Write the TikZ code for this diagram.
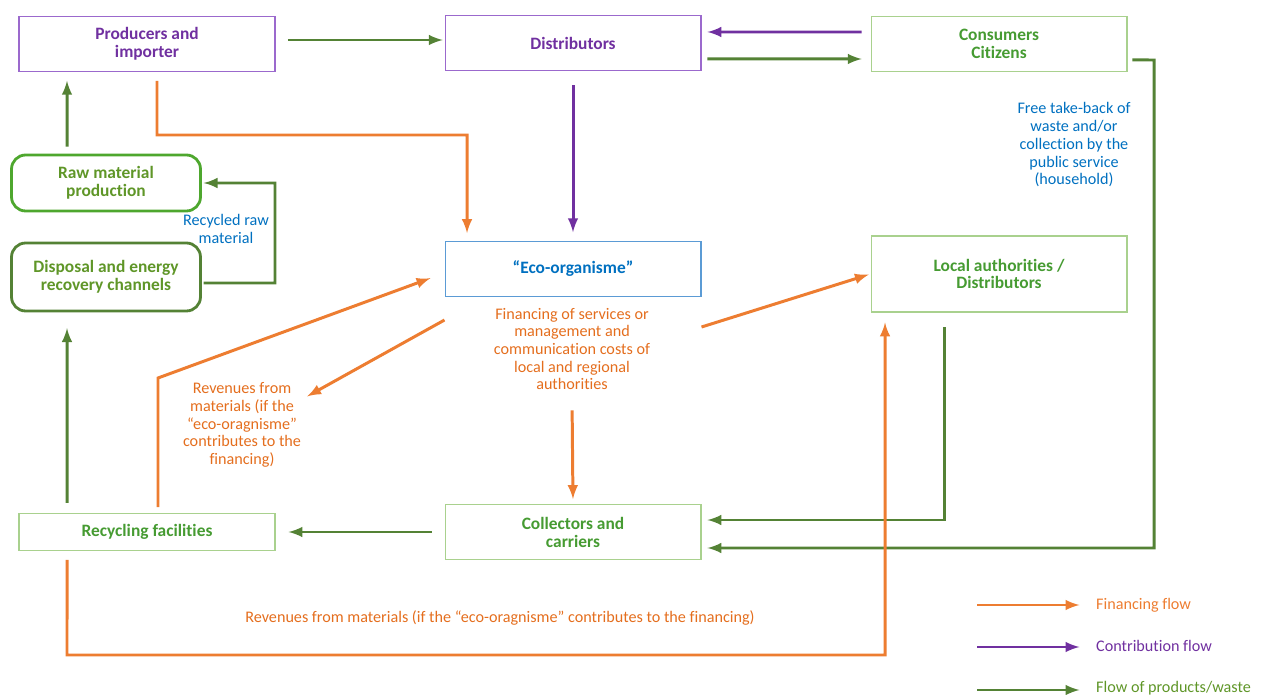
\documentclass[tikz,border=0pt]{standalone}
\usepackage{fontspec}
\setmainfont{Carlito}[Ligatures=NoCommon]
\usetikzlibrary{arrows}
\definecolor{orng}{RGB}{237,125,49}
\definecolor{orngtxt}{RGB}{228,110,30}
\definecolor{purp}{RGB}{112,48,160}
\definecolor{purpbox}{RGB}{155,105,205}
\definecolor{grn}{RGB}{84,130,53}
\definecolor{grnbox}{RGB}{169,209,142}
\definecolor{grntxt}{RGB}{70,155,50}
\definecolor{rawgrn}{RGB}{78,167,46}
\definecolor{oliv}{RGB}{95,150,40}
\definecolor{blu}{RGB}{0,112,192}
\definecolor{blubox}{RGB}{91,155,213}

\begin{document}
\begin{tikzpicture}[x=0.02cm, y=-0.02cm, font=\fontsize{9.2}{10.1}\selectfont,
  box/.style={draw, line width=0.6pt, minimum width=5.12cm, minimum height=1.1cm, align=center, font=\fontsize{9.9}{10.2}\selectfont\bfseries},
  rbox/.style={box, rounded corners=8pt, line width=1.6pt, minimum width=3.78cm},
  note/.style={align=center},
  flow/.style={line width=1.7pt, -latex},
  fin/.style={flow, draw=orng},
  con/.style={flow, draw=purp},
  prd/.style={flow, draw=grn}]
\useasboundingbox (0,0) rectangle (1263,695);

\node[box, draw=purpbox, text=purp] (prod) at (147,44) {Producers and\\importer};
\node[box, draw=purpbox, text=purp] (dist) at (573,43) {Distributors};
\node[box, draw=grnbox, text=grntxt] (cons) at (999,44) {Consumers\\Citizens};
\node[rbox, draw=rawgrn, text=oliv, minimum height=1.12cm] (raw) at (106,183) {Raw material\\production};
\node[rbox, draw=grn, text=oliv, minimum height=1.36cm] (disp) at (106,277) {Disposal and energy\\recovery channels};
\node[box, draw=blubox, text=blu] (eco) at (573,269) {“Eco-organisme”};
\node[box, draw=grnbox, text=grntxt, minimum height=1.52cm] (local) at (999,274) {Local authorities /\\Distributors};
\node[box, draw=grnbox, text=grntxt, minimum height=0.74cm] (recy) at (147,532) {Recycling facilities};
\node[box, draw=grnbox, text=grntxt] (coll) at (573,532) {Collectors and\\carriers};

\node[note, text=blu] (recraw) at (226,229) {Recycled raw\\material};
\node[note, text=blu] (free) at (1074,145) {Free take-back of\\waste and/or\\collection by the\\public service\\(household)};
\node[note, text=orngtxt] (fintxt) at (572,349) {Financing of services or\\management and\\communication costs of\\local and regional\\authorities};
\node[note, text=orngtxt] (revtxt) at (242,425) {Revenues from\\materials (if the\\“eco-oragnisme”\\contributes to the\\financing)};
\node[note, text=orngtxt] (revbot) at (500,618) {Revenues from materials (if the “eco-oragnisme” contributes to the financing)};

% flows of products and waste
\draw[prd, shorten <=7pt, shorten >=1pt] ([yshift=.08cm]prod.east) -- ([yshift=.06cm]dist.west);
\draw[prd, shorten <=3.4pt, shorten >=5pt] ([yshift=-.32cm]dist.east) -- ([yshift=-.3cm]cons.west);
\draw[prd, shorten <=4pt, shorten >=5pt] ([xshift=-.78cm]raw.north) -- ([xshift=-1.6cm]prod.south);
\draw[prd, shorten <=1pt, shorten >=1pt] ([yshift=-.12cm]disp.east) -- (275,283) |- (raw.east);
\draw[prd, shorten <=5.7pt, shorten >=9pt] ([xshift=-1.6cm]recy.north) -- ([xshift=-.78cm]disp.south);
\draw[prd, shorten <=7.4pt, shorten >=7.4pt] (coll.west) -- (recy.east);
\draw[prd, shorten <=8.5pt, shorten >=3.4pt] ([xshift=-1.1cm]local.south) |- ([yshift=.24cm]coll.east);
\draw[prd, shorten <=2.8pt, shorten >=3.4pt] ([yshift=-.32cm]cons.east) -- (1154,60) |- ([yshift=-.32cm]coll.east);

% contributions
\draw[con, shorten <=5pt, shorten >=3.4pt] ([yshift=.24cm]cons.west) -- ([yshift=.22cm]dist.east);
\draw[con, shorten <=8pt, shorten >=5pt] (dist.south) -- (eco.north);

% financing
\draw[fin, shorten <=5pt, shorten >=4.5pt] ([xshift=.2cm]prod.south) |- (467,135) -- ([xshift=-2.12cm]eco.north);
\draw[fin, shorten <=3.4pt, shorten >=8.5pt] ([xshift=.22cm]recy.north) -- (158,378) -- ([yshift=-.08cm]eco.west);
\draw[fin] ([yshift=-.46cm]eco.south west) -- ([yshift=-.4cm]revtxt.north east);
\draw[fin, shorten >=1pt] ([yshift=-.6cm]eco.south east) -- (local.west);
\draw[fin, shorten <=8pt, shorten >=2.8pt] (fintxt.south) -- (coll.north);
\draw[fin, shorten <=5pt, shorten >=5.7pt] ([xshift=-1.6cm]recy.south) -- (67,655) -| ([xshift=-2.28cm]local.south);

% legend
\node[anchor=west, text=orng] (lgfin) at (1090,605) {Financing flow};
\node[anchor=west, text=purp] (lgcon) at (1090,646) {Contribution flow};
\node[anchor=west, text=oliv] (lgprd) at (1090,688) {Flow of products/waste};
\coordinate (lf) at (977,605);
\coordinate (lc) at (977,647);
\coordinate (lp) at (977,690);
\draw[fin, shorten >=6pt] (lf) -- (lgfin.west);
\draw[con, shorten >=6pt] (lc) -- (lgcon.west |- lc);
\draw[prd, shorten >=6pt] (lp) -- (lgprd.west |- lp);
\end{tikzpicture}
\end{document}
